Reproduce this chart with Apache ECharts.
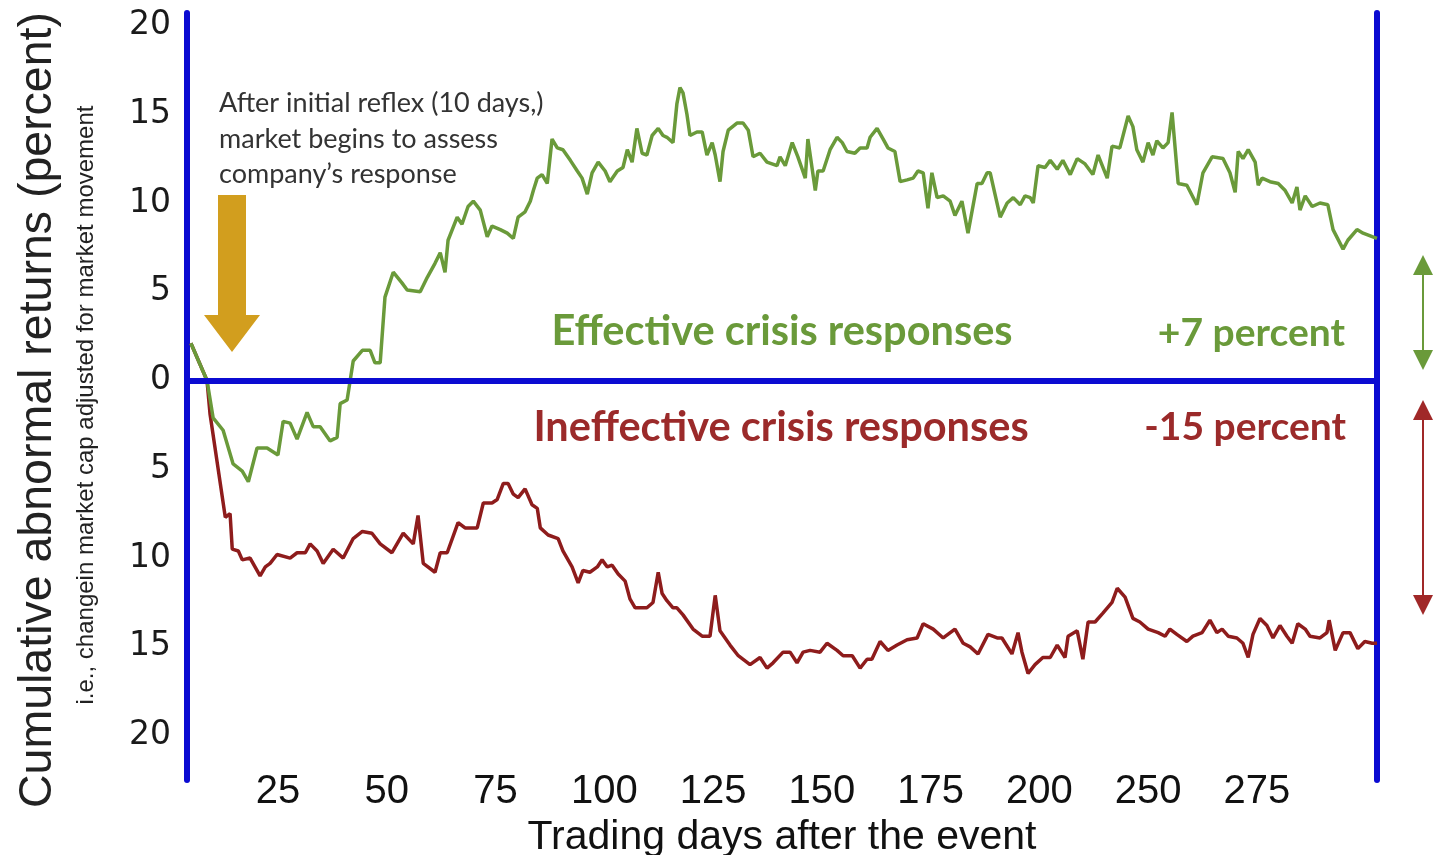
<!DOCTYPE html>
<html lang="en">
<head>
<meta charset="utf-8">
<title>Cumulative abnormal returns</title>
<style>
  html, body { margin: 0; padding: 0; background: #fff; }
  #main { width: 1435px; height: 855px; }
</style>
</head>
<body>
<div id="main"></div>
<script src="https://cdn.jsdelivr.net/npm/echarts@6/dist/echarts.min.js"></script>
<script>
// values (trading day, percent)
var greenDays = [5.0, 8.7, 10.1, 12.4, 14.7, 16.8, 18.2, 20.2, 22.5, 25.0, 26.2, 27.8, 29.4, 31.7, 33.1, 34.7, 37.0, 38.6, 39.3, 40.9,
  42.3, 44.4, 46.2, 47.3, 48.5, 49.6, 51.5, 53.5, 54.7, 57.7, 59.3, 61.1, 62.3, 63.4, 64.1, 66.2, 67.3, 68.7, 69.9, 71.5,
  73.1, 74.2, 76.1, 77.7, 79.1, 80.2, 81.8, 83.0, 83.7, 84.6, 85.7, 86.9, 88.0, 89.2, 90.5, 92.2, 93.8, 94.9, 96.1, 97.2,
  98.6, 100.2, 101.3, 103.0, 104.3, 105.3, 106.4, 107.5, 108.7, 109.8, 111.0, 112.4, 113.5, 114.4, 115.8, 116.7, 117.4, 118.1, 119.0, 119.7,
  121.3, 122.5, 123.6, 124.8, 125.5, 126.6, 127.3, 128.5, 130.5, 131.9, 133.1, 134.2, 135.8, 137.4, 139.7, 140.4, 141.6, 143.2, 144.5, 146.2,
  146.8, 148.5, 149.1, 150.3, 151.9, 153.5, 154.7, 155.8, 157.6, 158.8, 160.4, 161.1, 162.7, 164.1, 165.2, 166.8, 168.0, 169.6, 171.0, 172.1,
  173.3, 174.4, 175.3, 176.5, 177.9, 179.5, 180.6, 182.2, 183.6, 185.7, 186.8, 188.0, 188.7, 189.8, 191.0, 192.6, 194.0, 195.6, 196.7, 197.9,
  198.6, 199.7, 201.3, 202.5, 204.1, 205.4, 207.1, 208.7, 210.5, 212.3, 213.5, 215.6, 216.7, 218.5, 220.4, 221.5, 222.4, 223.8, 225.0, 226.1,
  227.0, 228.4, 229.6, 230.5, 231.9, 233.9, 236.2, 237.6, 239.7, 242.2, 243.8, 245.0, 245.7, 246.8, 248.0, 249.6, 250.3, 251.2, 253.0, 254.9,
  256.5, 258.1, 259.2, 259.9, 261.1, 262.7, 264.5, 266.3, 267.5, 269.8, 270.9, 273.0, 274.4, 276.5, 277.6];
var greenVals = [2.1, 0, -2.1, -2.8, -4.7, -5.1, -5.7, -3.8, -3.8, -4.2, -2.3, -2.4, -3.3, -1.8, -2.6, -2.6, -3.4, -3.2, -1.3, -1.1,
  1.1, 1.7, 1.7, 1.0, 1.0, 4.7, 6.1, 5.5, 5.1, 5.0, 5.8, 6.6, 7.2, 6.1, 7.9, 9.2, 8.8, 9.8, 10.1, 9.6,
  8.1, 8.7, 8.5, 8.3, 8.0, 9.2, 9.5, 10.1, 10.7, 11.4, 11.6, 11.1, 13.6, 13.1, 13.0, 12.4, 11.8, 11.4, 10.5, 11.7,
  12.3, 11.8, 11.2, 11.8, 12.0, 13.0, 12.3, 14.2, 12.8, 12.7, 13.8, 14.2, 13.8, 13.7, 13.4, 15.6, 16.5, 16.2, 15.0, 13.8,
  14.0, 14.0, 12.7, 13.4, 12.7, 11.2, 12.9, 14.1, 14.5, 14.5, 14.1, 12.6, 12.8, 12.3, 12.1, 12.6, 12.1, 13.4, 12.6, 11.4,
  13.6, 10.7, 11.8, 11.8, 13.0, 13.7, 13.4, 12.9, 12.8, 13.1, 13.1, 13.7, 14.2, 13.6, 13.1, 12.9, 11.2, 11.3, 11.4, 11.8,
  11.7, 9.7, 11.7, 10.3, 10.4, 10.1, 9.3, 10.1, 8.3, 11.1, 11.1, 11.7, 11.7, 10.5, 9.2, 10.0, 10.3, 9.9, 10.4, 10.3,
  10.0, 12.1, 12.0, 12.4, 11.9, 12.4, 11.6, 12.5, 12.2, 11.6, 12.7, 11.4, 13.2, 13.1, 14.9, 14.3, 13.0, 12.3, 13.4, 12.7,
  13.5, 13.1, 13.4, 15.1, 11.1, 11.0, 9.9, 11.7, 12.6, 12.5, 11.7, 10.6, 12.9, 12.5, 13.0, 12.3, 11.0, 11.4, 11.2, 11.1,
  10.7, 10.0, 10.9, 9.6, 10.4, 9.8, 10.0, 9.9, 8.5, 7.4, 7.9, 8.5, 8.3, 8.1, 8.0];

var redDays = [5.0, 8.7, 9.4, 12.9, 14.0, 14.5, 15.9, 16.8, 18.6, 20.9, 22.1, 23.2, 24.8, 27.8, 29.4, 31.3, 32.4, 34.0, 35.4, 37.7,
  40.0, 42.3, 44.4, 46.6, 48.5, 51.2, 53.8, 56.1, 57.2, 58.4, 61.1, 62.3, 63.9, 66.4, 68.0, 70.8, 72.2, 74.2, 75.4, 76.8,
  77.9, 79.1, 80.2, 81.8, 83.4, 84.6, 85.3, 87.1, 89.4, 90.5, 92.6, 94.0, 95.1, 96.7, 98.4, 99.5, 100.7, 101.8, 103.2, 104.8,
  105.9, 107.1, 109.8, 111.2, 112.4, 113.3, 114.4, 115.8, 116.7, 118.1, 120.4, 122.5, 124.3, 125.5, 126.6, 128.9, 130.8, 133.5, 135.8, 137.4,
  138.8, 141.1, 142.7, 144.3, 145.7, 147.3, 149.6, 151.2, 153.5, 154.9, 157.0, 158.8, 160.4, 161.5, 163.4, 165.2, 167.3, 169.6, 171.9, 173.3,
  175.6, 177.9, 180.6, 182.5, 184.1, 185.9, 188.2, 190.3, 191.4, 193.7, 195.1, 196.0, 197.4, 199.0, 200.8, 202.5, 204.1, 205.9, 206.6, 208.7,
  210.0, 211.2, 212.8, 214.6, 216.7, 217.9, 219.7, 221.5, 223.1, 225.0, 227.3, 228.9, 230.0, 231.6, 233.9, 235.3, 237.4, 239.2, 240.8, 242.0,
  243.4, 245.4, 246.8, 248.0, 249.1, 250.7, 252.3, 253.7, 255.3, 256.9, 258.1, 259.4, 261.1, 262.2, 264.5, 266.1, 266.6, 268.0, 269.8, 271.4,
  273.2, 274.8, 276.5, 277.6];
var redVals = [2.1, 0, -1.9, -7.7, -7.5, -9.5, -9.6, -10.1, -10.0, -11.0, -10.5, -10.3, -9.8, -10.0, -9.7, -9.7, -9.2, -9.6, -10.3, -9.5,
  -10.0, -8.9, -8.5, -8.6, -9.2, -9.7, -8.6, -9.2, -7.6, -10.3, -10.8, -9.7, -9.7, -8.0, -8.3, -8.3, -6.9, -6.9, -6.7, -5.8,
  -5.8, -6.4, -6.6, -6.1, -7.0, -7.2, -8.3, -8.7, -8.9, -9.6, -10.5, -11.4, -10.7, -10.8, -10.5, -10.1, -10.5, -10.4, -10.9, -11.3,
  -12.3, -12.8, -12.8, -12.5, -10.8, -12.0, -12.4, -12.8, -12.8, -13.2, -14.0, -14.4, -14.4, -12.1, -14.1, -14.9, -15.5, -16.0, -15.6, -16.2,
  -15.9, -15.3, -15.3, -15.9, -15.3, -15.2, -15.3, -14.8, -15.2, -15.5, -15.5, -16.2, -15.7, -15.7, -14.7, -15.2, -14.9, -14.6, -14.5, -13.7,
  -14.0, -14.5, -14.0, -14.8, -15.0, -15.4, -14.3, -14.5, -14.5, -15.4, -14.2, -15.3, -16.5, -16.0, -15.6, -15.6, -14.9, -15.6, -14.4, -14.1,
  -15.7, -13.6, -13.6, -13.1, -12.5, -11.7, -12.2, -13.4, -13.6, -14.0, -14.2, -14.4, -14.0, -14.3, -14.7, -14.4, -14.2, -13.5, -14.2, -14.0,
  -14.4, -14.5, -14.8, -15.6, -14.3, -13.4, -13.8, -14.5, -13.8, -14.4, -14.8, -13.7, -14.0, -14.4, -14.5, -14.2, -13.5, -15.2, -14.2, -14.2,
  -15.1, -14.7, -14.8, -14.8];

var yTicks = [20, 15, 10, 5, 0, -5, -10, -15, -20];
var xTickPos = [25, 50, 75, 100, 125, 150, 175, 200, 225, 250];
var xTickText = ['25', '50', '75', '100', '125', '150', '175', '200', '250', '275'];

function pairs(xs, ys) {
  var out = [];
  for (var i = 0; i < xs.length; i++) out.push([xs[i], ys[i]]);
  return out;
}

var blue = '#0b0bd2';
var green = '#6a9a3a';
var red = '#8e1c1c';
var sans = "'Liberation Sans', Arial, sans-serif";

var myChart = echarts.init(document.getElementById('main'));

myChart.setOption({
  backgroundColor: '#ffffff',
  animation: false,
  grid: { left: 187, right: 58, top: 13, bottom: 75, outerBoundsMode: 'none' },
  xAxis: {
    type: 'value',
    min: 4.1,
    max: 277.6,
    name: 'Trading days after the event',
    nameLocation: 'middle',
    nameGap: 28,
    nameTextStyle: { fontFamily: sans, fontSize: 41, color: '#111' },
    axisLine: { show: false },
    axisTick: { show: false },
    splitLine: { show: false },
    axisLabel: {
      customValues: xTickPos,
      margin: -8,
      fontFamily: sans,
      fontSize: 40,
      color: '#111',
      formatter: function (v) {
        var i = xTickPos.indexOf(v);
        return i >= 0 ? xTickText[i] : '';
      }
    }
  },
  yAxis: [{
    type: 'value',
    min: -22.5,
    max: 20.7,
    axisLine: { show: true, onZero: false, lineStyle: { color: blue, width: 6 } },
    axisTick: { show: false },
    splitLine: { show: false },
    axisLabel: {
      customValues: yTicks,
      margin: 16,
      fontFamily: 'DejaVu Sans',
      fontSize: 33,
      color: '#1a1a1a',
      formatter: function (v) { return String(Math.abs(v)); }
    }
  }, {
    type: 'value',
    position: 'right',
    min: -22.5,
    max: 20.7,
    axisLine: { show: true, onZero: false, lineStyle: { color: blue, width: 6 } },
    axisTick: { show: false },
    axisLabel: { show: false },
    splitLine: { show: false }
  }],
  series: [{
    name: 'Ineffective crisis responses',
    type: 'line',
    data: pairs(redDays, redVals),
    showSymbol: false,
    lineStyle: { color: red, width: 3.5 },
    itemStyle: { color: red },
    z: 3
  }, {
    name: 'Effective crisis responses',
    type: 'line',
    data: pairs(greenDays, greenVals),
    showSymbol: false,
    lineStyle: { color: green, width: 3.5 },
    itemStyle: { color: green },
    z: 4,
    markLine: {
      silent: true,
      symbol: 'none',
      label: { show: false },
      lineStyle: { color: blue, width: 6, type: 'solid' },
      data: [{ yAxis: 0 }]
    }
  }],
  graphic: [
    {
      type: 'text', x: 38, y: 410, rotation: Math.PI / 2,
      style: { text: 'Cumulative abnormal returns (percent)', fontFamily: sans, fontSize: 46.5,
        fill: '#222', align: 'center', verticalAlign: 'middle' }
    },
    {
      type: 'text', x: 86, y: 405, rotation: Math.PI / 2,
      style: { text: 'i.e., changein market cap adjusted for market movement', fontFamily: sans, fontSize: 24,
        fill: '#222', align: 'center', verticalAlign: 'middle' }
    },
    {
      type: 'text', x: 219, y: 86,
      style: { text: 'After initial reflex (10 days,)\nmarket begins to assess\ncompany\u2019s response',
        fontFamily: 'Lato', fontSize: 27, lineHeight: 35.5, fill: '#333' }
    },
    {
      type: 'polygon',
      shape: { points: [[218, 195], [246, 195], [246, 315], [260, 315], [232, 352], [204, 315], [218, 315]] },
      style: { fill: '#d29e1e' }
    },
    {
      type: 'text', x: 782, y: 332,
      style: { text: 'Effective crisis responses', fontFamily: 'Lato', fontWeight: 'bold', fontSize: 41.5,
        fill: green, align: 'center', verticalAlign: 'middle' }
    },
    {
      type: 'text', x: 1345, y: 333,
      style: { text: '+7 percent', fontFamily: 'Lato', fontWeight: 'bold', fontSize: 39,
        fill: green, align: 'right', verticalAlign: 'middle' }
    },
    {
      type: 'text', x: 781, y: 428,
      style: { text: 'Ineffective crisis responses', fontFamily: 'Lato', fontWeight: 'bold', fontSize: 41.5,
        fill: '#9b2a2a', align: 'center', verticalAlign: 'middle' }
    },
    {
      type: 'text', x: 1346, y: 427,
      style: { text: '-15 percent', fontFamily: 'Lato', fontWeight: 'bold', fontSize: 39,
        fill: '#9b2a2a', align: 'right', verticalAlign: 'middle' }
    },
    // double arrows on the right
    { type: 'line', shape: { x1: 1423, y1: 270, x2: 1423, y2: 356 }, style: { stroke: green, lineWidth: 2 } },
    { type: 'polygon', shape: { points: [[1423, 255], [1433, 275], [1413, 275]] }, style: { fill: green } },
    { type: 'polygon', shape: { points: [[1423, 370], [1433, 350], [1413, 350]] }, style: { fill: green } },
    { type: 'line', shape: { x1: 1423, y1: 415, x2: 1423, y2: 600 }, style: { stroke: '#a02828', lineWidth: 2 } },
    { type: 'polygon', shape: { points: [[1423, 400], [1433, 420], [1413, 420]] }, style: { fill: '#a02828' } },
    { type: 'polygon', shape: { points: [[1423, 615], [1433, 595], [1413, 595]] }, style: { fill: '#a02828' } }
  ]
});
</script>
</body>
</html>
